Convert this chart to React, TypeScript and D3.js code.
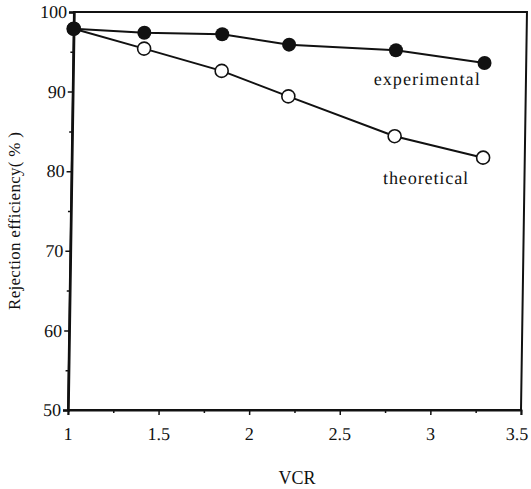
import React, { useRef, useEffect } from 'react';
import * as d3 from 'd3';

// values
const vcr = [1.0, 1.39, 1.82, 2.19, 2.78, 3.27];
const experimental = [97.9, 97.4, 97.2, 95.9, 95.2, 93.6];
const theoretical = [97.9, 95.4, 92.6, 89.4, 84.4, 81.7];
const xTicks = [1, 1.5, 2, 2.5, 3, 3.5];
const xTickLabels = ['1', '1.5', '2', '2.5', '3', '3.5'];
const yTicks = [50, 60, 70, 80, 90, 100];

const W = 531;
const H = 489;

const App = () => {
  const svgRef = useRef<SVGSVGElement | null>(null);

  useEffect(() => {
    if (!svgRef.current) return;
    const svg = d3.select(svgRef.current);
    svg.selectAll('*').remove();

    const left = 68;
    const right = 521;
    const top = 12;
    const bottom = 410;
    const font = '"Liberation Serif", "DejaVu Serif", serif';

    const x = d3.scaleLinear().domain([1, 3.5]).range([left, right]);
    const y = d3.scaleLinear().domain([50, 100]).range([bottom, top]);

    // the original scan leans a little to the right at the top
    const g = svg
      .append('g')
      .attr('transform', `translate(0,${bottom}) skewX(-0.86) translate(0,${-bottom})`);

    // frame
    g.append('rect')
      .attr('x', left)
      .attr('y', top)
      .attr('width', right - left)
      .attr('height', bottom - top)
      .attr('fill', 'none')
      .attr('stroke', '#111')
      .attr('stroke-width', 2);

    // y axis, ticks point outward
    const yAxis = d3
      .axisLeft(y)
      .tickValues(yTicks)
      .tickSize(5)
      .tickPadding(2)
      .tickFormat(d3.format('d'));
    const ya = g.append('g').attr('transform', `translate(${left},0)`).call(yAxis);
    ya.select('.domain').attr('stroke-width', 2.5).attr('stroke', '#111');
    ya.selectAll('.tick line').attr('stroke', '#111').attr('stroke-width', 1.5);
    ya.selectAll('.tick text')
      .attr('font-family', font)
      .attr('font-size', 18)
      .attr('fill', '#111');

    const yMinor = d3.axisLeft(y).tickValues([55, 65, 75, 85, 95]).tickSize(3).tickFormat(() => '');
    const ym = g.append('g').attr('transform', `translate(${left},0)`).call(yMinor);
    ym.select('.domain').remove();
    ym.selectAll('.tick line').attr('stroke', '#111').attr('stroke-width', 1.5);

    // x axis
    const xAxis = d3
      .axisBottom(x)
      .tickValues(xTicks)
      .tickSize(5)
      .tickPadding(12)
      .tickFormat((d, i) => xTickLabels[i]);
    const xa = g.append('g').attr('transform', `translate(0,${bottom})`).call(xAxis);
    xa.select('.domain').attr('stroke-width', 2).attr('stroke', '#111');
    xa.selectAll('.tick line').attr('stroke', '#111').attr('stroke-width', 1.5);
    xa.selectAll('.tick text')
      .attr('font-family', font)
      .attr('font-size', 18)
      .attr('fill', '#111')
      .attr('dx', (d, i) => (i === xTicks.length - 1 ? -4 : 0));

    const xMinor = d3
      .axisBottom(x)
      .tickValues([1.25, 1.75, 2.25, 2.75, 3.25])
      .tickSize(3)
      .tickFormat(() => '');
    const xm = g.append('g').attr('transform', `translate(0,${bottom})`).call(xMinor);
    xm.select('.domain').remove();
    xm.selectAll('.tick line').attr('stroke', '#111').attr('stroke-width', 1.5);

    const line = d3
      .line<number>()
      .x((d, i) => x(vcr[i]))
      .y(d => y(d));

    g.append('path')
      .datum(theoretical)
      .attr('d', line)
      .attr('fill', 'none')
      .attr('stroke', '#111')
      .attr('stroke-width', 2);

    g.append('path')
      .datum(experimental)
      .attr('d', line)
      .attr('fill', 'none')
      .attr('stroke', '#111')
      .attr('stroke-width', 2);

    g.selectAll('.theo')
      .data(theoretical)
      .enter()
      .append('circle')
      .attr('class', 'theo')
      .attr('cx', (d, i) => x(vcr[i]))
      .attr('cy', d => y(d))
      .attr('r', 6.5)
      .attr('fill', 'white')
      .attr('stroke', '#111')
      .attr('stroke-width', 1.6);

    g.selectAll('.exp')
      .data(experimental)
      .enter()
      .append('circle')
      .attr('class', 'exp')
      .attr('cx', (d, i) => x(vcr[i]))
      .attr('cy', d => y(d))
      .attr('r', 7)
      .attr('fill', '#111');

    // series labels
    g.append('text')
      .attr('x', x(2.66))
      .attr('y', y(90.8))
      .attr('font-family', font)
      .attr('font-size', 18)
      .attr('fill', '#111')
      .attr('textLength', 106)
      .attr('lengthAdjust', 'spacing')
      .text('experimental');

    g.append('text')
      .attr('x', x(2.72))
      .attr('y', y(78.4))
      .attr('font-family', font)
      .attr('font-size', 18)
      .attr('fill', '#111')
      .attr('textLength', 85)
      .attr('lengthAdjust', 'spacing')
      .text('theoretical');

    // axis titles
    svg
      .append('text')
      .attr('x', 297)
      .attr('y', 484)
      .attr('text-anchor', 'middle')
      .attr('font-family', font)
      .attr('font-size', 18)
      .attr('fill', '#111')
      .text('VCR');

    svg
      .append('text')
      .attr('transform', 'translate(20,221) rotate(-90)')
      .attr('text-anchor', 'middle')
      .attr('font-family', font)
      .attr('font-size', 17)
      .attr('fill', '#111')
      .attr('textLength', 178)
      .attr('lengthAdjust', 'spacing')
      .text('Rejection efficiency( % )');
  }, []);

  return (
    <svg
      ref={svgRef}
      width={W}
      height={H}
      style={{ position: 'absolute', left: 0, top: 0, background: 'white' }}
    ></svg>
  );
};

export default App;
